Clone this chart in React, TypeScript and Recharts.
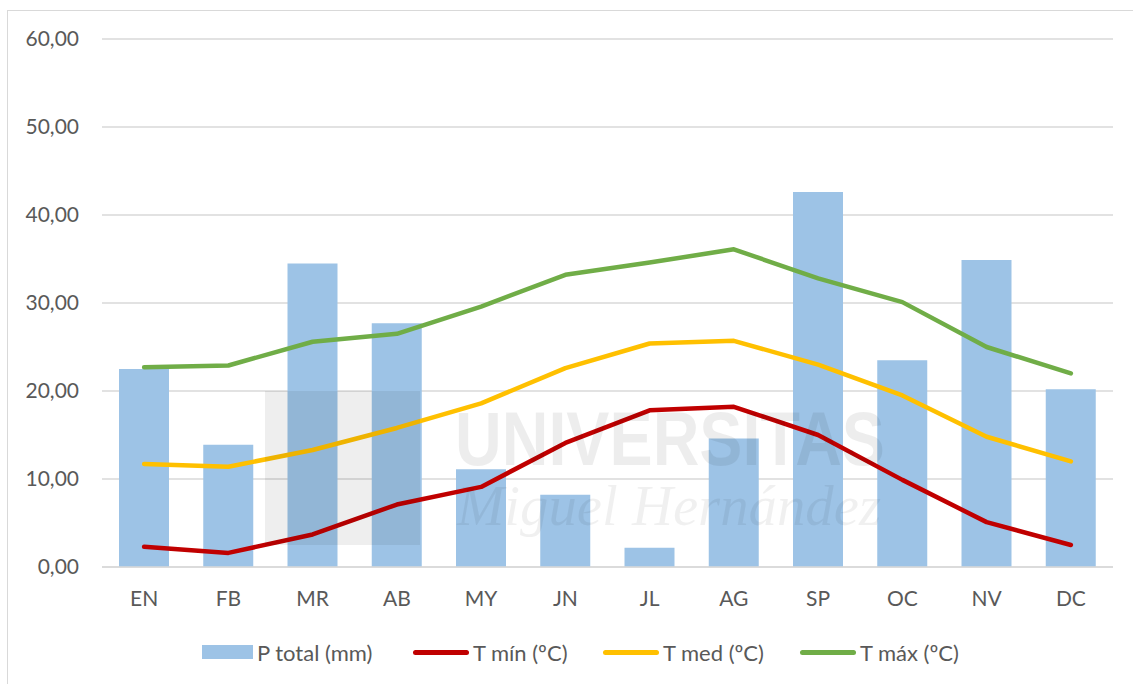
import {
  ComposedChart,
  Bar,
  Line,
  XAxis,
  YAxis,
  CartesianGrid,
} from "recharts";

const months = ["EN", "FB", "MR", "AB", "MY", "JN", "JL", "AG", "SP", "OC", "NV", "DC"];
const pTotal = [22.5, 13.9, 34.5, 27.7, 11.1, 8.2, 2.2, 14.6, 42.6, 23.5, 34.9, 20.2];
const tMin = [2.3, 1.6, 3.7, 7.1, 9.1, 14.1, 17.8, 18.2, 15.0, 9.9, 5.1, 2.5];
const tMed = [11.7, 11.4, 13.3, 15.8, 18.6, 22.6, 25.4, 25.7, 23.0, 19.5, 14.8, 12.0];
const tMax = [22.7, 22.9, 25.6, 26.5, 29.6, 33.2, 34.6, 36.1, 32.8, 30.1, 25.0, 22.0];
const yTicks = [0, 10, 20, 30, 40, 50, 60];

const BLUE = "#9DC3E6";
const RED = "#C00000";
const YELLOW = "#FFC000";
const GREEN = "#70AD47";
const TEXT = "#595959";
const GRID = "#D9D9D9";
const FONT = "Lato, 'Open Sans', sans-serif";

const data = months.map((m, i) => ({
  month: m,
  p: pTotal[i],
  min: tMin[i],
  med: tMed[i],
  max: tMax[i],
}));

// legend entries, each with its left edge on the page
const legendItems = [
  { label: "P total (mm)", color: BLUE, kind: "bar", left: 202 },
  { label: "T mín (ºC)", color: RED, kind: "line", left: 413 },
  { label: "T med (ºC)", color: YELLOW, kind: "line", left: 603 },
  { label: "T máx (ºC)", color: GREEN, kind: "line", left: 800 },
];

const fmt = (v: number) => v.toFixed(2).replace(".", ",");

export default function App() {
  return (
    <div
      style={{
        position: "fixed",
        left: 0,
        top: 0,
        width: 1133,
        height: 684,
        overflow: "hidden",
        background: "#fff",
        fontFamily: FONT,
      }}
    >
      <div
        style={{
          position: "absolute",
          left: 7,
          top: 10,
          width: 1300,
          height: 900,
          border: `1.3px solid ${GRID}`,
        }}
      />
      <div style={{ position: "absolute", left: 0, top: 0 }}>
        <ComposedChart
          width={1133}
          height={684}
          data={data}
          margin={{ top: 39, right: 20, bottom: 87, left: 22 }}
        >
          <CartesianGrid vertical={false} stroke={GRID} strokeWidth={1.3} />
          <XAxis
            dataKey="month"
            height={30}
            tickLine={false}
            tickSize={0}
            tickMargin={24}
            axisLine={{ stroke: GRID, strokeWidth: 1.3 }}
            tick={{ fill: TEXT, fontSize: 21, fontFamily: FONT }}
          />
          <YAxis
            width={80}
            domain={[0, 60]}
            ticks={yTicks}
            tickFormatter={fmt}
            axisLine={false}
            tickLine={false}
            tickSize={0}
            tickMargin={23}
            tick={{ fill: TEXT, fontSize: 21, fontFamily: FONT }}
          />
          <Bar dataKey="p" fill={BLUE} barSize={50} isAnimationActive={false} />
          <Line
            dataKey="min"
            stroke={RED}
            strokeWidth={4.5}
            strokeLinecap="round"
            strokeLinejoin="round"
            dot={false}
            isAnimationActive={false}
          />
          <Line
            dataKey="med"
            stroke={YELLOW}
            strokeWidth={4.5}
            strokeLinecap="round"
            strokeLinejoin="round"
            dot={false}
            isAnimationActive={false}
          />
          <Line
            dataKey="max"
            stroke={GREEN}
            strokeWidth={4.5}
            strokeLinecap="round"
            strokeLinejoin="round"
            dot={false}
            isAnimationActive={false}
          />
        </ComposedChart>
      </div>

      {/* watermark laid over the plot */}
      <svg
        width={1133}
        height={684}
        style={{ position: "absolute", left: 0, top: 0, pointerEvents: "none" }}
      >
        <rect x={265} y={391} width={155} height={154} fill="rgba(0,0,0,0.065)" />
        <text
          x={455}
          y={465}
          fontFamily="'Liberation Sans', Arial, sans-serif"
          fontWeight="bold"
          fontSize={76}
          textLength={430}
          lengthAdjust="spacingAndGlyphs"
          fill="rgba(0,0,0,0.07)"
        >
          UNIVERSITAS
        </text>
        <text
          x={457}
          y={525}
          fontFamily="'Liberation Serif', 'DejaVu Serif', serif"
          fontStyle="italic"
          fontSize={58}
          textLength={424}
          lengthAdjust="spacingAndGlyphs"
          fill="rgba(0,0,0,0.06)"
        >
          Miguel Hernández
        </text>
      </svg>

      {legendItems.map((it) => (
        <div
          key={it.label}
          style={{
            position: "absolute",
            left: it.left,
            top: 638,
            height: 28,
            display: "flex",
            alignItems: "center",
            color: TEXT,
            fontSize: 22,
            whiteSpace: "nowrap",
          }}
        >
          {it.kind === "bar" ? (
            <span style={{ width: 51, height: 14, background: it.color }} />
          ) : (
            <span
              style={{
                width: 56,
                height: 5,
                borderRadius: 3,
                background: it.color,
              }}
            />
          )}
          <span style={{ marginLeft: 4 }}>{it.label}</span>
        </div>
      ))}
    </div>
  );
}
